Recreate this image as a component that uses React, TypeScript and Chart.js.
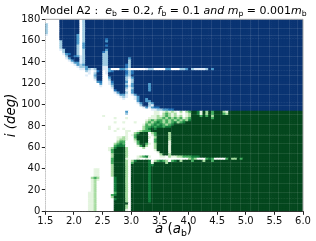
import { useEffect, useRef } from "react";
import { Chart, registerables } from "chart.js";

Chart.register(...registerables);

const xTicks = [1.5, 2, 2.5, 3, 3.5, 4, 4.5, 5, 5.5, 6];
const blueColors = ["#ffffff", "#dfecf8", "#9ecae1", "#4a98c9", "#2171b5", "#0a3473"];
const greenColors = ["#ffffff", "#e3f4de", "#a5db9f", "#41ab5d", "#137c3c", "#04471e"];
const overlayA = [1.62, 1.8, 2.0, 2.17, 2.35, 2.5, 2.68, 2.85, 3.03, 3.2, 3.37, 3.55, 3.7, 3.88, 4.05, 4.22, 4.4, 4.55, 4.72, 4.9, 5.07, 5.22, 5.4, 5.57, 5.75, 5.9];
const overlayI = [8, 18, 27, 36, 46, 55, 64, 72, 82, 91, 100, 110, 119, 128, 137, 146, 155, 165, 172];

// one string per 2 degree band, top (178) to bottom; one digit per 0.05 a_b cell, rest of the band is full colour
const blueRows = [
  "0000055555 5502555555",
  "0000055555 5502555555",
  "2000055555 5502555555",
  "2000055555 5502555555",
  "2000055555 5502555555",
  "2000055555 5502555555",
  "2000055555 5502555555",
  "1000055555 5302555555",
  "0000055555 5302555555",
  "0000055555 5302555555 54",
  "0000025555 5302555555 53",
  "0000025555 5303555555",
  "0000025555 5203555555 54",
  "0000025555 5203555555",
  "0000012555 5202555555 53",
  "0000002555 5202555555 42",
  "0000001345 5202555555 22",
  "0000000255 4312555555 22",
  "0000000135 5512555555 2255555553",
  "0000000013 5512555555 2255555552",
  "0000000001 3312555555 2255555552",
  "0000000000 1323555555 2255555542",
  "0000000000 0122355555 1155555542",
  "0000000000 0011321255 1130003320 0000012200 0033000223 5211112535",
  "0000000000 0000210145 0134555542 4",
  "0000000000 0000010255 0155555542 4",
  "0000000000 0000100355 0055555532 5",
  "0000000000 0000000255 0035555521 3",
  "0000000000 0000000155 0025555520 2",
  "0000000000 0000000034 0014555530 2",
  "0000000000 0000000003 0013555520 3555553",
  "0000000000 0000000001 0002555531 3555553",
  "0000000000 0000000000 0001555520 2555553",
  "0000000000 0000000000 0000455510 3555553",
  "0000000000 0000000000 0000135520 3555555",
  "0000000000 0000000000 0000013310 1355555",
  "0000000000 0000000000 0000001210 0135555",
  "0000000000 0000000000 0000000100 0135535",
  "0000000000 0000000000 0000000000 0035533555",
  "0000000000 0000000000 0000000000 0013552355",
  "0000000000 0000000000 0000000000 0002552155",
  "0000000000 0000000000 0000000000 0000131344 5555555555",
  "0000000000 0000000000 0000000000 0000000112 2334455555",
];

const greenRows = [
  "0000000000 0000000000 00000000b0 0000000011 0121210202 3554152535 5521",
  "0000000000 0000000000 00000000l0 0000000011 0232120101 2554152535 5532",
  "0000000000 0000000000 1000000000 0000000112 1232121201 2555353525",
  "0000000000 0000000000 0000100010 0000001112 2323232312 3555555535",
  "0000000000 0000000000 0000000000 0000012323 3232323232 4",
  "0000000000 0000000000 0000100100 0100023234 3232342345",
  "0000000000 0000000000 0000000000 0000132343 4323455555",
  "0000000000 0000000000 0010000000 0000233434 4344555555",
  "0000000000 0000000000 0010010100 0000234545",
  "0000000000 0000000000 0000100011 0012333555",
  "0000000000 0000000000 0000000010 0235550235 5552555555",
  "0000000000 0000000000 0000000010 1355550135 5552555555",
  "0000000000 0000000000 0000011210 0355551025 5552555555",
  "0000000000 0000000000 0000012210 0255550035 5552555555",
  "0000000000 0000000000 0000023300 0135550035 5551555555",
  "0000000000 0000000000 0000234300 0035531025 5551555555",
  "0000000000 0000000000 0000344400 0013520025 5551555555",
  "0000000000 0000000000 0012455520 0000200025 5551555555",
  "0000000000 0000000000 0013555520 0000000015 5551555555",
  "0000000000 0000000000 0003555520 0000000001 5551555555",
  "0000000000 0000000000 0002555520 0000000000 2552555555",
  "0000000000 0000000000 0002555520 0012341000 1102112233 3444555555",
  "0000000000 0000000000 0003555510 0010010000 0000000000 2320003430 0003522535",
  "0000000000 0000000000 0003555520 2455554023 4320345255 5355525535",
  "0000000000 0000000000 0003555520 3555554155 5525555555",
  "0000000000 0000000000 0002555520 5555554455",
  "0000000000 0000000000 0002555520 5555554",
  "0000000000 0000000110 0002555520 5555554",
  "0000000000 0000000110 0002555520 5555554",
  "0000000000 0000000110 0002555520 5555554",
  "0000000000 0000000110 0002555520 5555554",
  "0000000000 0000002320 0000455520 5555554",
  "0000000000 0000001210 0000455520 5555554",
  "0000000000 0000001200 0000455520 5555554",
  "0000000000 0000001200 0000455520 5555554",
  "0000000000 0000001200 0000455520 5555554",
  "0000000000 0000001200 0000455520 5555554",
  "0000000000 0000001200 0000455520 5555554",
  "0000000000 0000011200 0000355520 5555554",
  "0000000000 0000011200 0003455520 5555554",
  "0000000000 0000011200 0002555520 5555554",
  "0000000000 0000011200 0000455520 5555554",
  "0000000000 0000011200 0000555520 5555554",
  "0000000000 0000011200 0000555550",
  "0000000000 0000011200 0000555520",
  "0000000000 0000011200 0000555520",
  "0000000000 0000011200 0000555510",
];

const TITLE_FONT = '11px "DejaVu Sans"';
const TITLE_IT = 'italic 11px "DejaVu Sans"';
const TITLE_SUB = '7.7px "DejaVu Sans"';
const LABEL_IT = 'italic 13.4px "DejaVu Sans"';
const LABEL_RM = '13.4px "DejaVu Sans"';
const LABEL_SUB = '9.4px "DejaVu Sans"';

type Run = [string, string, number];

const titleRuns: Run[] = [
  ["Model A2 :  ", TITLE_FONT, 0],
  ["e", TITLE_IT, 0],
  ["b", TITLE_SUB, 2],
  [" = 0.2, ", TITLE_FONT, 0],
  ["f", TITLE_IT, 0],
  ["b", TITLE_SUB, 2],
  [" = 0.1 ", TITLE_FONT, 0],
  ["and ", TITLE_IT, 0],
  ["m", TITLE_IT, 0],
  ["p", TITLE_SUB, 2],
  [" = 0.001", TITLE_FONT, 0],
  ["m", TITLE_IT, 0],
  ["b", TITLE_SUB, 2],
];

const xLabelRuns: Run[] = [
  ["a", LABEL_IT, 0],
  [" (", LABEL_RM, 0],
  ["a", LABEL_IT, 0],
  ["b", LABEL_SUB, 2.5],
  [")", LABEL_RM, 0],
];

function drawRuns(ctx: CanvasRenderingContext2D, x: number, y: number, runs: Run[]) {
  let cx = x;
  ctx.textBaseline = "alphabetic";
  ctx.textAlign = "left";
  ctx.fillStyle = "#000";
  for (const [text, font, dy] of runs) {
    ctx.font = font;
    ctx.fillText(text, cx, y + dy);
    cx += ctx.measureText(text).width;
  }
}

function cellColor(level: string, rowIsBlue: boolean) {
  if (level === "b") return blueColors[3];
  if (level === "l") return blueColors[2];
  return (rowIsBlue ? blueColors : greenColors)[Number(level)];
}

const allRows = [...blueRows, ...greenRows].map((r) => r.replace(/ /g, "").padEnd(90, "5"));
const cells: { x: number; y: [number, number]; color: string }[] = [];
allRows.forEach((row, t) => {
  const top = 180 - 2 * t;
  for (let c = 0; c < 90; c++) {
    cells.push({
      x: 1.525 + 0.05 * c,
      y: [top - 2, top],
      color: cellColor(row[c], t < blueRows.length),
    });
  }
});

const decorPlugin = {
  id: "decor",
  afterDatasetsDraw(chart: any) {
    const { ctx, chartArea: a, scales } = chart;
    ctx.save();
    ctx.strokeStyle = "rgba(255,255,255,0.09)";
    ctx.lineWidth = 1;
    for (const v of overlayA) {
      const p = Math.round(scales.x.getPixelForValue(v)) + 0.5;
      ctx.beginPath();
      ctx.moveTo(p, a.top);
      ctx.lineTo(p, a.bottom);
      ctx.stroke();
    }
    for (const v of overlayI) {
      const p = Math.round(scales.y.getPixelForValue(v)) + 0.5;
      ctx.beginPath();
      ctx.moveTo(a.left, p);
      ctx.lineTo(a.right, p);
      ctx.stroke();
    }
    ctx.strokeStyle = "#a8a8a8";
    ctx.beginPath();
    ctx.moveTo(a.left, a.top);
    ctx.lineTo(a.right, a.top);
    ctx.lineTo(a.right, a.bottom);
    ctx.stroke();
    ctx.restore();
  },
  afterDraw(chart: any) {
    const { ctx } = chart;
    ctx.save();
    drawRuns(ctx, 40, 14, titleRuns);
    drawRuns(ctx, 155, 233, xLabelRuns);
    ctx.restore();
  },
};

export default function App() {
  const ref = useRef<HTMLCanvasElement>(null);
  useEffect(() => {
    const chart = new Chart(ref.current as HTMLCanvasElement, {
      type: "bar",
      data: {
        datasets: [
          {
            data: cells as any,
            backgroundColor: (c: any) => (c.raw ? c.raw.color : "#fff"),
            barPercentage: 1,
            categoryPercentage: 1,
            borderWidth: 0,
          },
        ],
      },
      options: {
        animation: false,
        responsive: false,
        layout: { padding: { top: 19.3, right: 13, left: 0, bottom: 0 } },
        plugins: {
          legend: { display: false },
          tooltip: { enabled: false },
        },
        scales: {
          x: {
            type: "linear",
            min: 1.5,
            max: 6,
            offset: false,
            afterBuildTicks: (s: any) => {
              s.ticks = xTicks.map((value) => ({ value }));
            },
            afterFit: (s: any) => {
              s.height = 29.7;
            },
            grid: { offset: false, drawOnChartArea: false, tickLength: 3.5, color: "#222", tickWidth: 1 },
            border: { display: true, color: "#333", width: 1 },
            ticks: {
              color: "#111",
              maxRotation: 0,
              padding: 1,
              font: { family: "DejaVu Sans", size: 10 },
              callback: (v: any) => Number(v).toFixed(1),
            },
          },
          y: {
            type: "linear",
            min: 0,
            max: 180,
            afterFit: (s: any) => {
              s.width = 45.3;
            },
            grid: { drawOnChartArea: false, tickLength: 3.5, color: "#222", tickWidth: 1 },
            border: { display: true, color: "#333", width: 1 },
            title: {
              display: true,
              text: "i (deg)",
              color: "#000",
              font: { family: "DejaVu Sans", size: 13.4, style: "italic" },
              padding: { top: 3, bottom: 0 },
            },
            ticks: {
              color: "#111",
              stepSize: 20,
              padding: 1.5,
              font: { family: "DejaVu Sans", size: 10 },
            },
          },
        },
      },
      plugins: [decorPlugin],
    } as any);
    return () => chart.destroy();
  }, []);
  return (
    <div style={{ position: "fixed", left: 0, top: 0, width: 316, height: 241 }}>
      <canvas ref={ref} width={316} height={241} style={{ display: "block" }} />
    </div>
  );
}
